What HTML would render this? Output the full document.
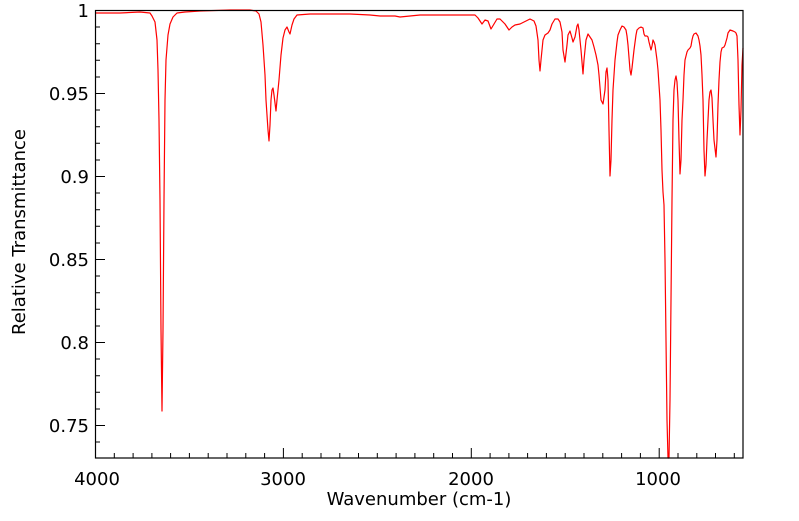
<!DOCTYPE html>
<html><head><meta charset="utf-8"><style>
body{margin:0;background:#fff;}
svg text{font-family:"DejaVu Sans","Liberation Sans",sans-serif;font-size:18px;fill:#000;}
</style></head><body>
<svg width="799" height="516" xmlns="http://www.w3.org/2000/svg">
<rect width="799" height="516" fill="#fff"/>
<polyline fill="none" stroke="#ff0000" stroke-width="1.2" stroke-linejoin="round" points="
96,13 120,13 140,12 150,13 152,16 155,22 157,40 158,70 159,120 160,200 161,330 162,411 163,330 164,200 165,100 166,60 168,35 170,24 173,17 177,13 185,12 200,11 230,10 250,10 256,11 259,14 261,22 263,45 265,75 266,100 268,130 269,141 270,125 271,100 272,90 273,88 274,95 276,111 277,100 279,80 281,55 283,38 285,30 287,27 289,32 290,34 292,25 294,19 297,15 310,14 330,14 350,14 370,15 380,16 395,16 400,17 420,15 450,15 475,15 478,18 482,24 485,20 488,21 491,29 494,24 497,19 500,19 505,24 509,30 512,27 515,25 520,24 524,22 530,19 534,21 536,26 538,40 539,60 540,71 541,60 543,40 545,35 548,33 550,30 552,24 555,19 558,19 560,22 562,32 563,50 565,62 567,45 568,35 570,31 572,38 573,42 575,37 577,26 578,24 579,30 581,50 583,74 584,60 586,40 588,34 590,37 592,40 594,47 596,55 598,65 599,75 601,100 603,104 605,90 606,72 607,68 608,80 609,130 610,176 611,160 612,120 613,90 615,60 617,42 618,35 620,30 622,26 624,27 626,30 627,36 628,45 630,70 631,75 632,68 634,50 636,35 637,30 639,28 641,27 643,28 644,34 645,36 647,36 648,37 649,42 651,50 652,46 653,40 654,42 655,45 657,60 658,70 660,100 661,130 662,170 663,192 664,205 665,260 666,340 667,420 668,458 669,458 670,400 671,300 672,200 673,120 674,90 675,80 676,76 677,82 678,100 679,140 680,174 681,160 682,120 683,100 684,75 685,60 687,52 688,50 690,48 691,46 692,40 693,36 694,34 696,33 698,36 699,40 700,46 701,55 702,75 703,100 704,150 705,176 706,165 707,140 708,120 709,100 710,92 711,90 712,98 713,120 714,140 716,157 717,140 718,105 719,80 720,62 721,52 722,48 724,47 725,45 727,38 728,33 730,30 733,31 735,32 736,33 737,36 738,60 739,105 740,135 741,110 742,65 743,48"/>
<rect x="95.5" y="10.5" width="647.5" height="447.5" fill="none" stroke="#000" stroke-width="1.2"/>
<g>
<text x="97" y="485" text-anchor="middle">4000</text>
<text x="283" y="485" text-anchor="middle">3000</text>
<text x="471" y="485" text-anchor="middle">2000</text>
<text x="658" y="485" text-anchor="middle">1000</text>
<text x="419" y="505" text-anchor="middle">Wavenumber (cm-1)</text>
<text x="89" y="17" text-anchor="end">1</text>
<text x="89" y="100" text-anchor="end">0.95</text>
<text x="89" y="183" text-anchor="end">0.9</text>
<text x="89" y="266" text-anchor="end">0.85</text>
<text x="89" y="349" text-anchor="end">0.8</text>
<text x="89" y="432" text-anchor="end">0.75</text>
<text transform="translate(25,232) rotate(-90)" text-anchor="middle">Relative Transmittance</text>
</g>
<path stroke="#000" stroke-width="1" fill="none" d="
M95,10.5h10 M95,27h5 M95,43.7h5 M95,60.3h5 M95,77h5 M95,93.5h10 M95,110h5 M95,126.7h5 M95,143.3h5 M95,160h5 M95,176.5h10 M95,193h5 M95,209.7h5 M95,226.3h5 M95,243h5 M95,259.5h10 M95,276h5 M95,292.7h5 M95,309.3h5 M95,326h5 M95,342.5h10 M95,359h5 M95,375.7h5 M95,392.3h5 M95,409h5 M95,425.5h10 M95,442h5
M114.3,458v-5 M133.1,458v-5 M151.9,458v-5 M170.6,458v-5 M189.4,458v-5 M208.2,458v-5 M227,458v-5 M245.8,458v-5 M264.6,458v-5 M283.4,458v-10 M302.2,458v-5 M321,458v-5 M339.8,458v-5 M358.5,458v-5 M377.3,458v-5 M396.1,458v-5 M414.9,458v-5 M433.7,458v-5 M452.5,458v-5 M471.3,458v-10 M490.1,458v-5 M508.9,458v-5 M527.6,458v-5 M546.4,458v-5 M565.2,458v-5 M584,458v-5 M602.8,458v-5 M621.6,458v-5 M640.4,458v-5 M659.2,458v-10 M678,458v-5 M696.8,458v-5 M715.5,458v-5 M734.3,458v-5
"/>
</svg>
</body></html>
